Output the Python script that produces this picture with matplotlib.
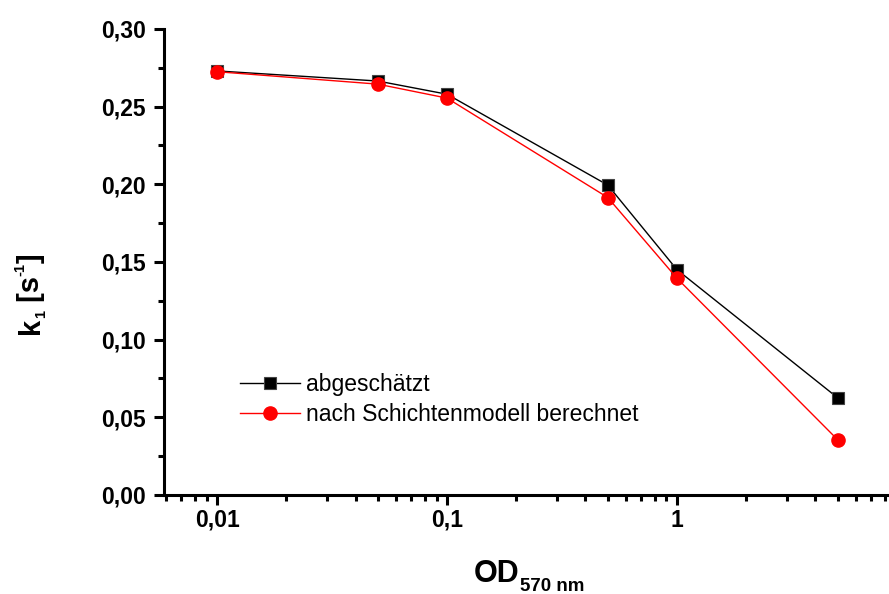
import numpy as np
import matplotlib
matplotlib.use('Agg')
import matplotlib.pyplot as plt
from matplotlib.ticker import FixedLocator, FuncFormatter, MultipleLocator

plt.rcParams['font.family'] = ['Liberation Sans', 'DejaVu Sans']

od = [0.01, 0.05, 0.1, 0.5, 1, 5]
k_est = [0.273, 0.2665, 0.258, 0.1995, 0.145, 0.0625]
k_model = [0.2725, 0.2645, 0.2555, 0.1915, 0.1395, 0.0355]

W, H = 889, 594
fig = plt.figure(figsize=(W / 100, H / 100), dpi=100)
ax = fig.add_axes([0.1845, 0.1667, 0.8144, 0.7845])

ax.plot(od, k_est, color='black', lw=1, marker='s', ms=8.8,
        mfc='black', mec='#444444', mew=0.8, label='abgeschätzt')
ax.plot(od, k_model, color='red', lw=1, marker='o', ms=9.5,
        mfc='red', mec='red', label='nach Schichtenmodell berechnet')

ax.set_xscale('log')
ax.set_xlim(0.00588, 8.27)
ax.set_ylim(0, 0.30)

ax.xaxis.set_major_locator(FixedLocator([0.01, 0.1, 1]))
minors = [m * 10.0 ** e for e in (-3, -2, -1, 0) for m in range(2, 10)]
ax.xaxis.set_minor_locator(FixedLocator(minors))
ax.xaxis.set_major_formatter(FuncFormatter(lambda v, p: ('%g' % v).replace('.', ',')))
ax.xaxis.set_minor_formatter(FuncFormatter(lambda v, p: ''))

ax.yaxis.set_major_locator(MultipleLocator(0.05))
ax.yaxis.set_minor_locator(MultipleLocator(0.025))
ax.yaxis.set_major_formatter(FuncFormatter(lambda v, p: ('%.2f' % v).replace('.', ',')))

for s in ('top', 'right'):
    ax.spines[s].set_visible(False)
for s in ('left', 'bottom'):
    ax.spines[s].set_linewidth(2.2)

ax.tick_params(which='major', direction='out', length=7, width=2.2,
               labelsize=16.5)
ax.tick_params(axis='y', which='major', pad=6)
ax.tick_params(axis='x', which='major', pad=3)
ax.tick_params(which='minor', direction='out', length=4, width=2.2)
for lbl in ax.get_xticklabels() + ax.get_yticklabels():
    lbl.set_fontweight('bold')

ax.legend(loc='upper left', bbox_to_anchor=(0.105, 0.262), frameon=False,
          fontsize=16.5, handlelength=2.6, handletextpad=0.26,
          labelspacing=0.3, borderaxespad=0, borderpad=0)

# axis titles with Origin-style small sub/superscripts, laid out piece by piece
renderer = fig.canvas.get_renderer()


def piece_width(txt, size):
    t = fig.text(0, 0, txt, fontsize=size, fontweight='bold')
    w = t.get_window_extent(renderer).width
    t.remove()
    return w


def rich_label(x0, y0, pieces, rotated=False):
    # x0, y0: start of the baseline in pixels from the top-left corner
    pos = 0.0
    for txt, size, shift in pieces:
        if rotated:
            px, py = x0 + shift, y0 - pos
        else:
            px, py = x0 + pos, y0 + shift
        fig.text(px / W, 1 - py / H, txt, fontsize=size, fontweight='bold',
                 ha='left', va='baseline', rotation=90 if rotated else 0,
                 rotation_mode='anchor')
        pos += piece_width(txt, size)


rich_label(474, 582, [('OD', 22, 0), ('570 nm', 13.5, 9)])
rich_label(39, 334, [('k', 21, 0), ('1', 10.5, 6), (' [s', 21, 0),
                     ('-1', 10.5, -15), (']', 21, 0)], rotated=True)

fig.savefig('out.png', dpi=100)
